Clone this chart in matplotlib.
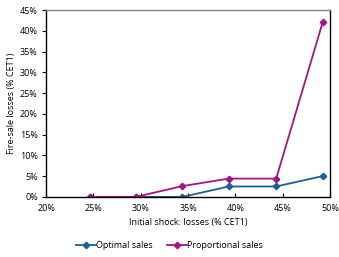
import matplotlib.pyplot as plt
from matplotlib.ticker import FuncFormatter

# Initial shock (% CET1) and fire-sale losses (% CET1)
shock = [24.6, 29.5, 34.4, 39.3, 44.3, 49.2]
optimal = [0.0, 0.0, 0.0, 2.5, 2.5, 5.0]
proportional = [0.0, 0.0, 2.6, 4.4, 4.4, 42.0]

blue = '#1f5f8f'
magenta = '#a3167f'

plt.rcParams['font.family'] = ['Open Sans', 'DejaVu Sans']
plt.rcParams['font.size'] = 6.5

fig = plt.figure(figsize=(3.39, 2.57), dpi=100)
ax = fig.add_axes([0.136, 0.234, 0.838, 0.727])

ax.plot(shock, optimal, color=blue, marker='D', markersize=3.3, lw=1.3, label='Optimal sales')
ax.plot(shock, proportional, color=magenta, marker='D', markersize=3.3, lw=1.3, label='Proportional sales')

ax.set_xlim(20, 50)
ax.set_ylim(0, 45)
ax.set_xticks(range(20, 51, 5))
ax.set_yticks(range(0, 46, 5))
pct = FuncFormatter(lambda v, p: '%d%%' % v)
ax.xaxis.set_major_formatter(pct)
ax.yaxis.set_major_formatter(pct)
ax.tick_params(axis='x', direction='in', length=3, width=0.8, pad=5)
ax.tick_params(axis='y', direction='out', length=3, width=0.8, pad=3)

for s in ['left', 'bottom', 'right']:
    ax.spines[s].set_color('black')
    ax.spines[s].set_linewidth(1)
ax.spines['top'].set_color('#808080')
ax.spines['top'].set_linewidth(1)

ax.set_xlabel('Initial shock: losses (% CET1)', labelpad=4)
ax.set_ylabel('Fire-sale losses (% CET1)', labelpad=3)

fig.legend(loc='center', bbox_to_anchor=(0.5, 0.043), ncol=2, frameon=False,
           handlelength=2.2, columnspacing=1.5, handletextpad=0.1)

fig.savefig('out.png', dpi=100)
